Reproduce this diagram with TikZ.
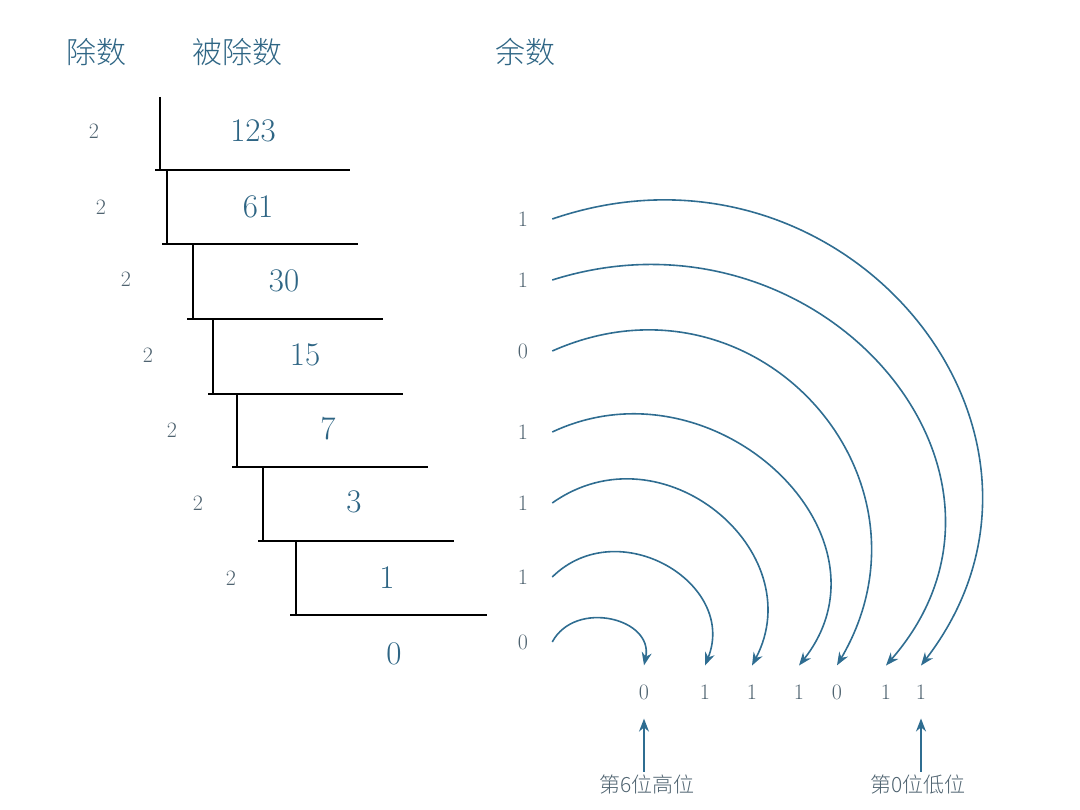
\documentclass[tikz,border=0pt]{standalone}
\usepackage{fontspec}
\usepackage{tikz}
\usetikzlibrary{arrows.meta}
\newfontfamily\cjk{Noto Sans CJK SC Light}
\definecolor{inkblue}{HTML}{2E6584}
\definecolor{arcblue}{HTML}{2F6D91}
\definecolor{softgray}{HTML}{4F6370}

\begin{document}
\begin{tikzpicture}[x=1pt, y=-1pt, >={Stealth[length=13pt,width=10pt]}]
	\tikzstyle{hdr}=[text=inkblue, font=\cjk\fontsize{30}{36}\selectfont]
	\tikzstyle{quotient}=[text=inkblue, font=\fontsize{33}{38}\selectfont]
	\tikzstyle{digit}=[text=softgray, font=\fontsize{22}{26}\selectfont]
	\tikzstyle{remainder}=[digit, inner xsep=24pt]
	\tikzstyle{bitnode}=[digit, inner ysep=19pt]
	\tikzstyle{bitlabel}=[text=softgray, font=\cjk\fontsize{21}{25}\selectfont]
	\tikzstyle{ladder}=[line width=1.6pt, black]
	\tikzstyle{carry}=[->, arcblue, line width=1.6pt]
	
	\useasboundingbox (0,0) rectangle (1080,810);
	
	% headings
	\node[hdr] (hdiv) at (96,52)  {除数};
	\node[hdr] (hdvd) at (237,52) {被除数};
	\node[hdr] (hrem) at (525,52) {余数};
	
	% short division ladder
	\foreach \vx/\ty/\by/\hl/\hr in {160/97/170/155/350, 167/170/244/162/358,
		193/244/319/187/383, 213/319/394/208/403, 237/394/467/232/428,
		263/467/541/258/454, 296/541/615/290/487}
	\draw[ladder] (\vx,\ty) -- (\vx,\by) (\hl,\by) -- (\hr,\by);
	
	\foreach \x/\y [count=\i] in {94/131, 101/207, 126/279, 148/355, 172/430, 198/503, 231/578}
	\node[digit] (d\i) at (\x,\y) {2};
	
	\node[quotient] (q0) at (253,131) {123};
	\node[quotient] (q1) at (258,207) {61};
	\node[quotient] (q2) at (284,281) {30};
	\node[quotient] (q3) at (305,355) {15};
	\node[quotient] (q4) at (328,429) {7};
	\node[quotient] (q5) at (354,502) {3};
	\node[quotient] (q6) at (387,578) {1};
	\node[quotient] (q7) at (394,654) {0};
	
	% remainders
	\node[remainder] (r0) at (523,219) {1};
	\node[remainder] (r1) at (523,280) {1};
	\node[remainder] (r2) at (523,351) {0};
	\node[remainder] (r3) at (523,432) {1};
	\node[remainder] (r4) at (523,503) {1};
	\node[remainder] (r5) at (523,577) {1};
	\node[remainder] (r6) at (523,642) {0};
	
	% binary result
	\node[bitnode] (b6) at (644,692) {0};
	\node[bitnode] (b5) at (705,692) {1};
	\node[bitnode] (b4) at (752,692) {1};
	\node[bitnode] (b3) at (799,692) {1};
	\node[bitnode] (b2) at (837,692) {0};
	\node[bitnode] (b1) at (886,692) {1};
	\node[bitnode] (b0) at (921,692) {1};
	
	\draw[carry] (r0.east) .. controls +(292,-100) and +(179,-233) .. (b0.north);
	\draw[carry] (r1.east) .. controls +(265,-84) and +(170,-195) .. (b1.north);
	\draw[carry] (r2.east) .. controls +(203,-90) and +(111,-189) .. (b2.north);
	\draw[carry] (r3.east) .. controls +(162,-76) and +(103,-131) .. (b3.north);
	\draw[carry] (r4.east) .. controls +(110,-78) and +(60,-114) .. (b4.north);
	\draw[carry] (r5.east) .. controls +(66,-65) and +(33,-82) .. (b5.north);
	\draw[carry] (r6.east) .. controls +(23,-43) and +(10,-47) .. (b6.north);
	
	\node[bitlabel] (hi) at (647,785) {第6位高位};
	\node[bitlabel] (lo) at (918,785) {第0位低位};
	\draw[carry] (hi.north -| b6.south) -- (b6.south);
	\draw[carry] (lo.north -| b0.south) -- (b0.south);
\end{tikzpicture}
\end{document}
